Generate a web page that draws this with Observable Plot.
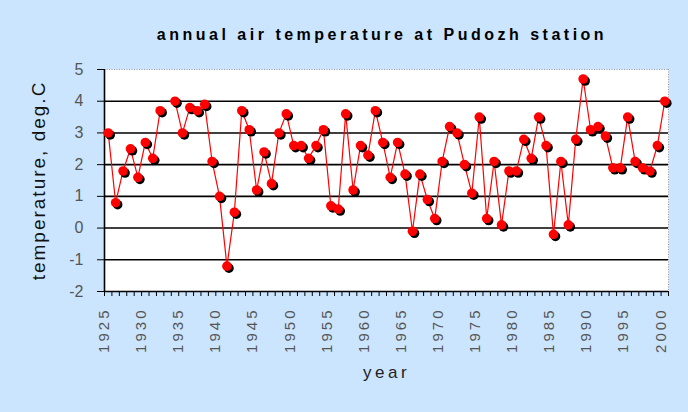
<!DOCTYPE html>
<html>
<head>
<meta charset="utf-8">
<script src="https://cdn.jsdelivr.net/npm/d3@7"></script>
<script src="https://cdn.jsdelivr.net/npm/@observablehq/plot@0.6"></script>
<style>
  html, body { margin: 0; padding: 0; background: #cce5ff; }
  #wrap { width: 688px; height: 412px; background: #cce5ff; overflow: hidden; }
  #title {
    height: 50px; box-sizing: border-box; padding-top: 27px; padding-left: 76px; width: 688px;
    text-align: center; font: bold 16px/16px "Liberation Sans", Arial, sans-serif;
    letter-spacing: 3.5px; color: #000;
  }
  svg { display: block; }
</style>
</head>
<body>
<div id="wrap">
  <div id="title">annual air temperature at Pudozh station</div>
  <div id="chart"></div>
</div>
<script>
const years = [1925,1926,1927,1928,1929,1930,1931,1932,1933,1934,1935,1936,1937,1938,1939,
  1940,1941,1942,1943,1944,1945,1946,1947,1948,1949,1950,1951,1952,1953,1954,
  1955,1956,1957,1958,1959,1960,1961,1962,1963,1964,1965,1966,1967,1968,1969,
  1970,1971,1972,1973,1974,1975,1976,1977,1978,1979,1980,1981,1982,1983,1984,
  1985,1986,1987,1988,1989,1990,1991,1992,1993,1994,1995,1996,1997,1998,1999,2000];
const temps = [3.0,0.8,1.8,2.5,1.6,2.7,2.2,3.7,null,4.0,3.0,3.8,3.7,3.9,2.1,
  1.0,-1.2,0.5,3.7,3.1,1.2,2.4,1.4,3.0,3.6,2.6,2.6,2.2,2.6,3.1,
  0.7,0.6,3.6,1.2,2.6,2.3,3.7,2.7,1.6,2.7,1.7,-0.1,1.7,0.9,0.3,
  2.1,3.2,3.0,2.0,1.1,3.5,0.3,2.1,0.1,1.8,1.8,2.8,2.2,3.5,2.6,
  -0.2,2.1,0.1,2.8,4.7,3.1,3.2,2.9,1.9,1.9,3.5,2.1,1.9,1.8,2.6,4.0];
const yTicks = [-2,-1,0,1,2,3,4,5];
const xLabelYears = [1925,1930,1935,1940,1945,1950,1955,1960,1965,1970,1975,1980,1985,1990,1995,2000];

const data = years.map((year, i) => ({year, temp: temps[i] == null ? NaN : temps[i]}));
const bandEdges = years.map(y => y - 0.5).concat([years[years.length - 1] + 0.5]);
const xMin = bandEdges[0], xMax = bandEdges[bandEdges.length - 1];
const yMin = yTicks[0], yMax = yTicks[yTicks.length - 1];

const chart = Plot.plot({
  width: 688,
  height: 362,
  marginTop: 19,
  marginLeft: 104,
  marginRight: 20,
  marginBottom: 121,
  style: {background: "transparent", fontFamily: "'Liberation Sans', Arial, sans-serif", overflow: "visible"},
  x: {domain: [xMin, xMax]},
  y: {domain: [yMin, yMax]},
  marks: [
    Plot.frame({fill: "white", stroke: "none"}),
    Plot.gridY(yTicks.slice(1, -1), {stroke: "black", strokeOpacity: 1, strokeWidth: 1.6}),
    Plot.ruleY([yMax], {stroke: "#999", strokeDasharray: "1,1.5"}),
    Plot.ruleX([xMax], {stroke: "#999", strokeDasharray: "1,1.5"}),
    Plot.ruleX([xMin], {stroke: "black", strokeWidth: 1.6}),
    Plot.ruleY([yMin], {stroke: "black", strokeWidth: 1.6}),
    Plot.axisY({ticks: yTicks, tickSize: 7, tickPadding: 14, fontSize: 16, stroke: "black", fill: "#555",
      tickFormat: d => String(d),
      label: "temperature, deg.C", labelAnchor: "center", labelOffset: 73, labelArrow: "none"}),
    Plot.axisX({ticks: bandEdges, tickSize: 5, tickFormat: () => "", stroke: "black", label: null}),
    Plot.axisX({ticks: xLabelYears, tickSize: 0, tickPadding: 16, tickRotate: -90, fontSize: 15,
      fill: "#555", dx: -4, tickFormat: d => String(d), label: null}),
    Plot.axisX({ticks: [], tickSize: 0, label: "year", labelAnchor: "center", labelOffset: 86,
      labelArrow: "none", fontSize: 17, fill: "#222"}),
    Plot.line(data, {x: "year", y: "temp", stroke: "red", strokeWidth: 1.2}),
    Plot.dot(data, {x: "year", y: "temp", r: 4.8, fill: "black", dx: 2, dy: 2}),
    Plot.dot(data, {x: "year", y: "temp", r: 4.8, fill: "red"})
  ]
});
document.getElementById("chart").appendChild(chart);

const s = d3.select(chart);
s.selectAll('[aria-label="x-axis tick label"] text').attr("letter-spacing", "3px");
s.selectAll('[aria-label="x-axis label"] text').attr("letter-spacing", "3.5px").attr("font-size", 17);
s.selectAll('[aria-label="y-axis label"] text').attr("letter-spacing", "2px").attr("font-size", 19).attr("fill", "#111");
</script>
</body>
</html>
